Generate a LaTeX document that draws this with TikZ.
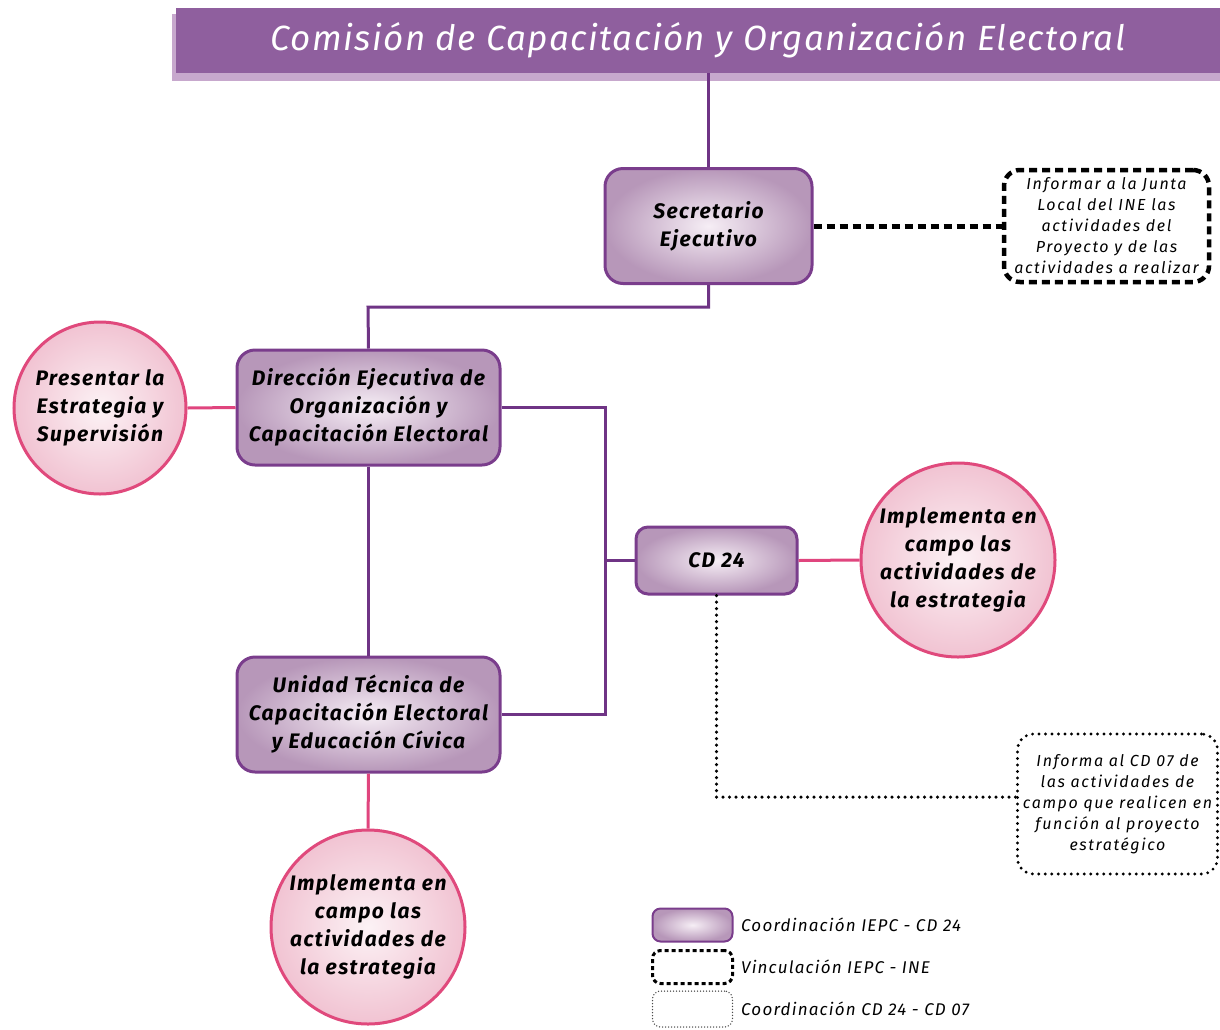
\documentclass[tikz,border=0pt]{standalone}
\usepackage{fontspec}
\setmainfont{Fira Sans}
\definecolor{titlecol}{HTML}{8F5F9E}
\definecolor{titleshade}{HTML}{C7A8CD}
\definecolor{boxline}{HTML}{7A3D8C}
\definecolor{boxin}{HTML}{F6EEF5}
\definecolor{boxout}{HTML}{B797B9}
\definecolor{circline}{HTML}{E0497C}
\definecolor{circin}{HTML}{FCF2F5}
\definecolor{circout}{HTML}{F1C3D2}
\definecolor{purpline}{HTML}{6F3485}
\definecolor{pinkline}{HTML}{E0457E}
\begin{document}
\begin{tikzpicture}[x=1pt,y=-1pt,
  boldfont/.style={font=\bfseries\itshape\fontsize{21}{28}\selectfont\addfontfeatures{LetterSpace=7}},
  orgbox/.style={rounded corners=18pt, draw=boxline, line width=3pt, inner color=boxin, outer color=boxout, align=center, boldfont, inner sep=0pt},
  circ/.style={circle, draw=circline, line width=3pt, inner color=circin, outer color=circout, align=center, boldfont, inner sep=0pt},
  note/.style={rounded corners=16pt, align=center, font=\itshape\fontsize{16}{21}\selectfont\addfontfeatures{LetterSpace=10}, inner sep=0pt},
  dashnote/.style={note, draw=black, line width=4.5pt, dash pattern=on 8pt off 5pt},
  dotnote/.style={note, draw=black, line width=3.2pt, line cap=round, dash pattern=on 0pt off 6.5pt},
  purp/.style={draw=purpline, line width=3pt},
  pink/.style={draw=pinkline, line width=3pt},
  dashconn/.style={draw=black, line width=5pt, dash pattern=on 8pt off 5pt},
  dotconn/.style={draw=black, line width=3.5pt, line cap=round, dash pattern=on 0pt off 6.5pt},
  legtext/.style={anchor=west, font=\itshape\fontsize{17}{20}\selectfont\addfontfeatures{LetterSpace=7}, inner sep=0pt}
]
\useasboundingbox (0,0) rectangle (1220,1029);
% title bar
\fill[titleshade] (172,14) rectangle (1220,81);
\node[fill=titlecol, minimum width=1044pt, minimum height=65pt, inner sep=0pt, text=white,
  font=\itshape\fontsize{35}{40}\selectfont\addfontfeatures{LetterSpace=4}] (title) at (698,40.5) {Comisión de Capacitación y Organización Electoral};

% nodes
\node[orgbox, minimum width=207pt, minimum height=115pt] (sec) at (708.5,226) {Secretario\\Ejecutivo};
\node[dashnote, minimum width=205pt, minimum height=112pt] (n1) at (1106.5,226) {Informar a la Junta\\Local del INE las\\actividades del\\Proyecto y de las\\actividades a realizar};
\node[orgbox, minimum width=263pt, minimum height=115pt] (dir) at (368.5,407.5) {Dirección Ejecutiva de\\Organización y\\Capacitación Electoral};
\node[circ, minimum size=172pt] (c1) at (100,408) {Presentar la\\Estrategia y\\Supervisión};
\node[orgbox, rounded corners=12pt, minimum width=161pt, minimum height=67pt] (cd) at (716.5,560.5) {CD 24};
\node[circ, minimum size=194pt] (c2) at (958,560) {Implementa en\\campo las\\actividades de\\la estrategia};
\node[orgbox, minimum width=263pt, minimum height=115pt] (uni) at (368.5,714.5) {Unidad Técnica de\\Capacitación Electoral\\y Educación Cívica};
\node[circ, minimum size=194pt] (c3) at (368,927) {Implementa en\\campo las\\actividades de\\la estrategia};
\node[dotnote, minimum width=200pt, minimum height=140pt] (n2) at (1117.5,804) {Informa al CD 07 de\\las actividades de\\campo que realicen en\\función al proyecto\\estratégico};

% connectors
\coordinate (j1) at (368,307);
\coordinate (busx) at (605,0);
\draw[purp] (sec.north) -- (sec.north |- title.south);
\draw[purp] (sec.south) |- (j1) -- (dir.north);
\draw[purp] (dir.east) -- (dir.east -| busx) |- (uni.east);
\draw[purp] (cd.west) -- (cd.west -| busx);
\draw[purp] (dir.south) -- (uni.north);
\draw[pink] (c1.east) -- (dir.west);
\draw[pink] (cd.east) -- (c2.west);
\draw[pink] (uni.south) -- (c3.north);
\draw[dashconn] (sec.east) -- (n1.west);
\draw[dotconn] (cd.south) |- ([yshift=7pt]n2.west);

% legend
\node[orgbox, rounded corners=8pt, line width=2pt, minimum width=80pt, minimum height=33pt] (lg1) at (692.5,925) {};
\node[legtext] (lt1) at (741,925) {Coordinación IEPC - CD 24};
\node[note, rounded corners=8pt, draw=black, line width=3pt, dash pattern=on 4pt off 3pt, minimum width=80pt, minimum height=33pt] (lg2) at (692.5,967) {};
\node[legtext] (lt2) at (741,967) {Vinculación IEPC - INE};
\node[note, rounded corners=8pt, draw=black!70, line width=1.5pt, line cap=round, dash pattern=on 0pt off 3pt, minimum width=80pt, minimum height=36pt] (lg3) at (692.5,1009) {};
\node[legtext] (lt3) at (741,1009) {Coordinación CD 24 - CD 07};
\end{tikzpicture}
\end{document}
